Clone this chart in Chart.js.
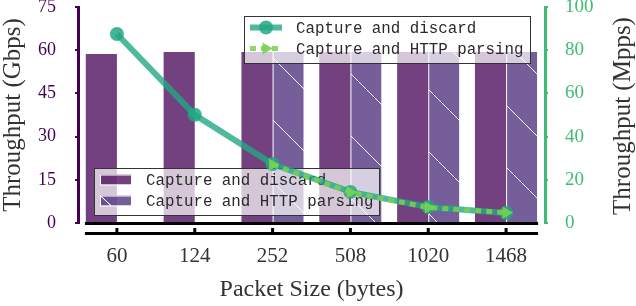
<!DOCTYPE html>
<html>
<head>
<meta charset="utf-8">
<script src="https://cdn.jsdelivr.net/npm/chart.js@4.4.1/dist/chart.umd.min.js"></script>
<style>
  html, body { margin: 0; padding: 0; background: #fff; }
</style>
</head>
<body>
<canvas id="chart" width="636" height="306"></canvas>
<script>
// Data
const packet_sizes = ['60', '124', '252', '508', '1020', '1468']
const gbps_discard = [58.7, 59.4, 59.4, 59.4, 59.4, 59.4]
const gbps_http = [null, null, 59.4, 59.4, 59.4, 59.4]
const mpps_discard = [87.5, 50.1, 27.3, 14.4, 7.4, 4.6]
const mpps_http = [null, null, 27.0, 14.2, 7.2, 4.8]
const gbps_axis = { min: 0, max: 75, step: 15 }
const mpps_axis = { min: 0, max: 100, step: 20 }

const purple = '#440154'
const green = '#3fbc73'
const serif = '"Liberation Serif", "Times New Roman", serif'
const mono = '"Liberation Mono", "Courier New", monospace'

// white diagonal hatch for the HTTP bars
function makeHatch(color) {
    const c = document.createElement('canvas')
    c.width = 62
    c.height = 62
    const g = c.getContext('2d')
    g.fillStyle = color
    g.fillRect(0, 0, 62, 62)
    g.strokeStyle = 'rgba(255,255,255,0.95)'
    g.lineWidth = 1
    g.beginPath()
    g.moveTo(0, 33); g.lineTo(62, 95)
    g.moveTo(0, -29); g.lineTo(62, 33)
    g.stroke()
    return g.createPattern(c, 'repeat')
}

////////////////////////
// Legends and extras //
////////////////////////

function drawLegendBox(chart, x, y, w, h, items) {
    const ctx = chart.ctx
    ctx.save()
    ctx.fillStyle = 'rgba(255,255,255,0.7)'
    ctx.fillRect(x, y, w, h)
    ctx.strokeStyle = '#333'
    ctx.lineWidth = 1
    ctx.strokeRect(x + 0.5, y + 0.5, w, h)
    ctx.font = '15.8px ' + mono
    ctx.textBaseline = 'middle'
    items.forEach((i, n) => {
        const ds = chart.data.datasets[i]
        const cy = y + 11.5 + n * 21
        const sx = x + 6
        if (ds.type === 'line') {
            ctx.strokeStyle = ds.borderColor
            ctx.lineWidth = ds.borderWidth
            ctx.setLineDash(ds.borderDash || [])
            ctx.beginPath()
            ctx.moveTo(sx, cy)
            ctx.lineTo(sx + 32, cy)
            ctx.stroke()
            ctx.setLineDash([])
            ctx.fillStyle = ds.pointBackgroundColor
            ctx.strokeStyle = ds.pointBackgroundColor
            Chart.helpers.drawPoint(ctx, {
                pointStyle: ds.pointStyle, radius: ds.pointRadius,
                rotation: ds.pointRotation || 0, borderWidth: 0
            }, sx + 16, cy)
        } else {
            ctx.fillStyle = ds.backgroundColor
            ctx.fillRect(sx, cy - 5, 32, 10)
            ctx.strokeStyle = '#fff'
            ctx.lineWidth = 1
            ctx.strokeRect(sx + 0.5, cy - 4.5, 31, 10)
            if (i === 1) {
                ctx.beginPath()
                ctx.moveTo(sx, cy - 5)
                ctx.lineTo(sx + 11, cy + 5)
                ctx.stroke()
            }
        }
        ctx.fillStyle = '#2a2a2a'
        ctx.fillText(ds.label, x + 52, cy + 1)
    })
    ctx.restore()
}

const extras = {
    id: 'extras',
    beforeDatasetDraw(chart, args) {
        // legends sit above the bars but below the lines
        if (args.index !== 2) return
        drawLegendBox(chart, 244, 16, 286, 47, [2, 3])
        drawLegendBox(chart, 94, 168, 285, 47, [0, 1])
    },
    afterDraw(chart) {
        const ctx = chart.ctx
        const xs = chart.scales.x
        const yb = chart.chartArea.bottom
        const x0 = xs.getPixelForValue(0) - 32
        const x1 = xs.getPixelForValue(packet_sizes.length - 1) + 32
        ctx.save()
        ctx.fillStyle = '#000'
        ctx.fillRect(x0, yb - 1, x1 - x0, 3)
        ctx.fillRect(x0, yb + 9, x1 - x0, 3)
        for (let i = 0; i < packet_sizes.length; i++) {
            const px = xs.getPixelForValue(i)
            ctx.fillRect(px - 1.5, yb + 5, 3, 5)
        }
        // right axis title reads bottom to top, like the left one
        ctx.translate(623, 116)
        ctx.rotate(-Math.PI / 2)
        ctx.font = '25px ' + serif
        ctx.fillStyle = '#333'
        ctx.textAlign = 'center'
        ctx.textBaseline = 'middle'
        ctx.fillText('Throughput (Mpps)', 0, 0)
        ctx.restore()
    }
}

function fixY(width) {
    return (s) => {
        s.width = width
        s.paddingTop = 0
        s.paddingBottom = 0
    }
}

var throughput_chart = new Chart('chart', {
    type: 'bar',
    data: {
        labels: packet_sizes,
        datasets: [{
            label: 'Capture and discard',
            data: gbps_discard,
            backgroundColor: 'rgba(68,1,84,0.75)',
            borderWidth: 0,
            yAxisID: 'y',
            order: 2
        }, {
            label: 'Capture and HTTP parsing',
            data: gbps_http,
            backgroundColor: makeHatch('rgba(72,40,120,0.75)'),
            borderColor: '#fff',
            borderWidth: { left: 1, right: 0, top: 0, bottom: 0 },
            borderSkipped: false,
            yAxisID: 'y',
            order: 2
        }, {
            type: 'line',
            label: 'Capture and discard',
            data: mpps_discard,
            borderColor: 'rgba(34,168,132,0.8)',
            borderWidth: 6,
            pointStyle: 'circle',
            pointRadius: 7,
            pointBorderWidth: 0,
            pointBackgroundColor: 'rgba(34,168,132,0.85)',
            yAxisID: 'y1',
            order: 1
        }, {
            type: 'line',
            label: 'Capture and HTTP parsing',
            data: mpps_http,
            borderColor: 'rgba(122,209,81,0.85)',
            borderWidth: 5,
            borderDash: [6, 5],
            pointStyle: 'triangle',
            pointRotation: 90,
            pointRadius: 7,
            pointBorderWidth: 0,
            pointBackgroundColor: 'rgba(122,209,81,0.9)',
            yAxisID: 'y1',
            order: 0
        }]
    },
    options: {
        responsive: false,
        animation: false,
        devicePixelRatio: 1,
        layout: { padding: { top: 7, left: 0, right: 0, bottom: 0 } },
        datasets: { bar: { categoryPercentage: 0.8, barPercentage: 1.0 } },
        plugins: { legend: { display: false }, tooltip: { enabled: false } },
        scales: {
            x: {
                offset: true,
                grid: { display: false, drawTicks: false },
                border: { display: false },
                ticks: { color: '#333', font: { family: serif, size: 21 }, padding: 21 },
                title: {
                    display: true, text: 'Packet Size (bytes)', color: '#333',
                    font: { family: serif, size: 24 }, padding: { top: 0, bottom: 2 }
                },
                afterFit: (s) => {
                    s.height = 83
                    s.paddingLeft = 0
                    s.paddingRight = 0
                }
            },
            y: {
                position: 'left',
                min: gbps_axis.min, max: gbps_axis.max,
                grid: { drawOnChartArea: false, color: purple, lineWidth: 2, tickLength: 3 },
                border: { color: purple, width: 3 },
                ticks: { stepSize: gbps_axis.step, color: purple, font: { family: serif, size: 18 }, padding: 19 },
                title: {
                    display: true, text: 'Throughput (Gbps)', color: '#333',
                    font: { family: serif, size: 25, lineHeight: 1.1 }, padding: 0
                },
                afterFit: fixY(78)
            },
            y1: {
                position: 'right',
                min: mpps_axis.min, max: mpps_axis.max,
                grid: { drawOnChartArea: false, color: green, lineWidth: 2, tickLength: 3 },
                border: { color: green, width: 3 },
                ticks: { stepSize: mpps_axis.step, color: green, font: { family: serif, size: 19 }, padding: 17 },
                afterFit: fixY(91)
            }
        }
    },
    plugins: [extras]
})
</script>
</body>
</html>
